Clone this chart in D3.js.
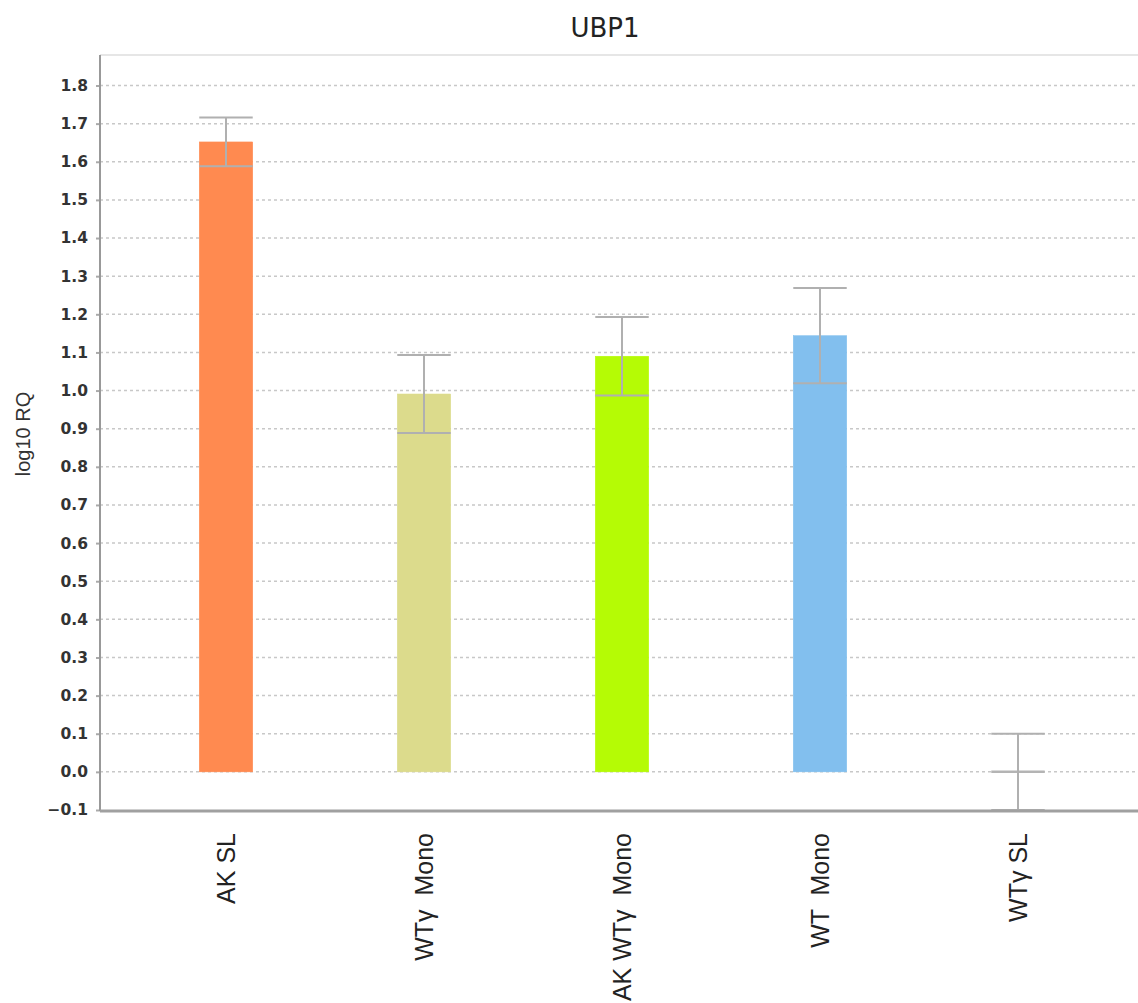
<!DOCTYPE html>
<html>
<head>
<meta charset="utf-8">
<script src="https://cdn.jsdelivr.net/npm/d3@7"></script>
<style>
  html, body { margin: 0; padding: 0; background: #fff; }
  svg { display: block; }
</style>
</head>
<body>
<svg id="chart" width="1138" height="1003"></svg>
<script>
// Sample groups and their log10 RQ values with error bar half-widths
const categories = ["AK SL", "WTγ  Mono", "AK WTγ  Mono", "WT  Mono", "WTγ SL"];
const log10RQ   = [1.652, 0.991, 1.090, 1.144, 0.0];
const errHalf   = [0.064, 0.102, 0.103, 0.125, 0.1];
const barColors = ["#ff8a50", "#dcdb8c", "#b5fb05", "#82bfee", "#b4b4b4"];
const yTicks = [-0.1, 0.0, 0.1, 0.2, 0.3, 0.4, 0.5, 0.6, 0.7, 0.8, 0.9, 1.0,
                1.1, 1.2, 1.3, 1.4, 1.5, 1.6, 1.7, 1.8];

const svg = d3.select("#chart");
const W = 1138;
const plotLeft = 100, plotTop = 55, plotBottom = 810, plotRight = W;

const y = d3.scaleLinear().domain([-0.1, 1.88]).range([plotBottom, plotTop]);
const x = d3.scaleBand().domain(categories).range([127, 1117])
  .paddingInner(0.73).paddingOuter(0.365);

// Title
svg.append("text")
  .attr("x", 605).attr("y", 37)
  .attr("text-anchor", "middle")
  .attr("font-family", "DejaVu Sans, sans-serif")
  .attr("font-size", 26)
  .attr("fill", "#222")
  .text("UBP1");

// Top frame line
svg.append("line")
  .attr("x1", plotLeft).attr("x2", plotRight).attr("y1", plotTop).attr("y2", plotTop)
  .attr("stroke", "#e6e6e6").attr("stroke-width", 2);

// Dotted horizontal grid
svg.append("g").selectAll("line").data(yTicks.filter(t => t > -0.1)).join("line")
  .attr("x1", plotLeft).attr("x2", plotRight)
  .attr("y1", d => y(d)).attr("y2", d => y(d))
  .attr("stroke", "#c8c8c8").attr("stroke-width", 1.5)
  .attr("stroke-dasharray", "3,3");

// Y axis
const yAxis = d3.axisLeft(y).tickValues(yTicks).tickFormat(d3.format(".1f"))
  .tickSize(4).tickPadding(8);
const gy = svg.append("g").attr("transform", `translate(${plotLeft},0)`).call(yAxis);
gy.select(".domain").remove();
gy.selectAll(".tick line").attr("stroke", "#aaa").attr("stroke-width", 2);
gy.selectAll(".tick text")
  .attr("font-family", "DejaVu Sans, sans-serif")
  .attr("font-weight", "bold")
  .attr("font-size", 15.5)
  .attr("fill", "#333");

svg.append("line")
  .attr("x1", plotLeft).attr("x2", plotLeft).attr("y1", plotTop).attr("y2", plotBottom + 1)
  .attr("stroke", "#999").attr("stroke-width", 2);

// Y axis title
svg.append("text")
  .attr("transform", `translate(30,${434}) rotate(-90)`)
  .attr("text-anchor", "middle")
  .attr("font-family", "Liberation Sans, Arial, sans-serif")
  .attr("font-size", 20)
  .attr("fill", "#333")
  .text("log10 RQ");

// Bars (zero-height bars show as a flat line at the baseline)
const data = categories.map((c, i) => ({ c, v: log10RQ[i], e: errHalf[i], col: barColors[i] }));
svg.append("g").selectAll("rect").data(data.filter(d => d.v !== 0)).join("rect")
  .attr("x", d => x(d.c))
  .attr("width", x.bandwidth())
  .attr("y", d => Math.min(y(d.v), y(0)))
  .attr("height", d => Math.abs(y(0) - y(d.v)))
  .attr("fill", d => d.col)
  .attr("stroke", d => d.col)
  .attr("stroke-width", 0.5);
svg.append("g").selectAll("line").data(data.filter(d => d.v === 0)).join("line")
  .attr("x1", d => x(d.c)).attr("x2", d => x(d.c) + x.bandwidth())
  .attr("y1", d => y(d.v)).attr("y2", d => y(d.v))
  .attr("stroke", d => d.col).attr("stroke-width", 2.5);

// Error bars
const eb = svg.append("g").attr("stroke", "#b0b0b0").attr("stroke-width", 2).attr("fill", "none");
data.forEach(d => {
  const cx = x(d.c) + x.bandwidth() / 2;
  const x0 = x(d.c), x1 = x(d.c) + x.bandwidth();
  eb.append("line").attr("x1", cx).attr("x2", cx)
    .attr("y1", y(d.v + d.e)).attr("y2", y(d.v - d.e));
  eb.append("line").attr("x1", x0).attr("x2", x1)
    .attr("y1", y(d.v + d.e)).attr("y2", y(d.v + d.e));
  eb.append("line").attr("x1", x0).attr("x2", x1)
    .attr("y1", y(d.v - d.e)).attr("y2", y(d.v - d.e));
});

// Bottom axis line
svg.append("line")
  .attr("x1", plotLeft).attr("x2", plotRight).attr("y1", plotBottom + 1).attr("y2", plotBottom + 1)
  .attr("stroke", "#a0a0a0").attr("stroke-width", 3);

// Category labels
const xAxis = d3.axisBottom(x).tickSize(0).tickPadding(0);
const gx = svg.append("g").attr("transform", `translate(0,${plotBottom})`).call(xAxis);
gx.select(".domain").remove();
gx.selectAll(".tick text")
  .attr("transform", "rotate(-90)")
  .attr("x", -23).attr("y", 0).attr("dy", "0.35em")
  .attr("text-anchor", "end")
  .attr("font-family", "Liberation Sans, Arial, sans-serif")
  .attr("font-size", 25)
  .attr("fill", "#222")
  .style("white-space", "pre");
</script>
</body>
</html>
